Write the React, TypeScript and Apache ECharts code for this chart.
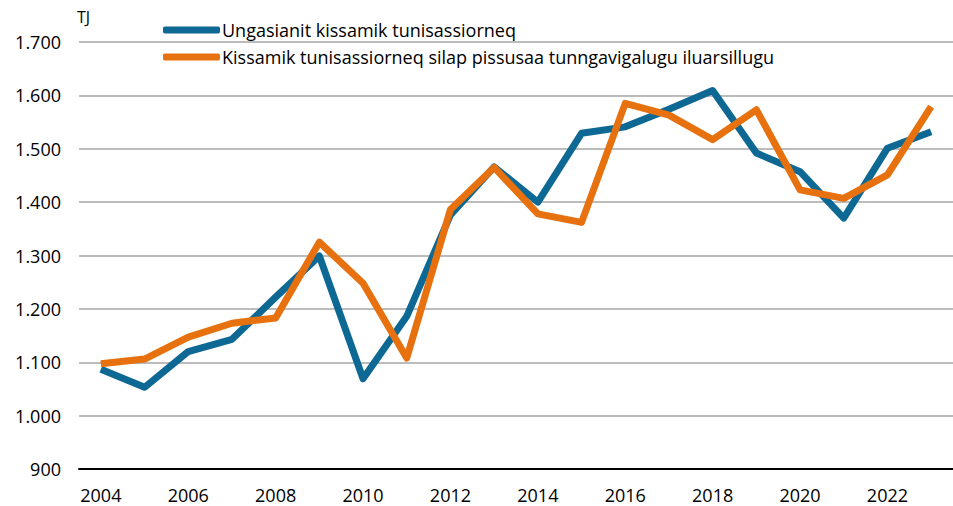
import React, { useEffect, useRef } from "react";
import * as echarts from "echarts";

const years = ["2004","2005","2006","2007","2008","2009","2010","2011","2012","2013","2014","2015","2016","2017","2018","2019","2020","2021","2022","2023"];
const seriesNames = ["Ungasianit kissamik tunisassiorneq", "Kissamik tunisassiorneq silap pissusaa tunngavigalugu iluarsillugu"];
const actual = [1087, 1053, 1120, 1143, 1222, 1299, 1069, 1186, 1376, 1466, 1400, 1529, 1541, 1574, 1609, 1492, 1457, 1370, 1501, 1532];
const adjusted = [1097, 1106, 1147, 1173, 1183, 1325, 1248, 1108, 1386, 1465, 1378, 1362, 1585, 1563, 1517, 1573, 1423, 1407, 1451, 1579];
const yMin = 900;
const yMax = 1700;
const yStep = 100;
const unitLabel = "TJ";

const FONT = "'Open Sans', 'Noto Sans', sans-serif";

export default function App() {
  const ref = useRef<HTMLDivElement>(null);
  useEffect(() => {
    const chart = echarts.init(ref.current!, null, { renderer: "svg" });
    chart.setOption({
      animation: false,
      textStyle: { fontFamily: FONT },
      graphic: [
        { type: "text", left: 77, top: 9, style: { text: unitLabel, fontSize: 16, fill: "#000", fontFamily: FONT } },
      ],
      legend: {
        orient: "vertical",
        left: 158,
        top: 16,
        itemWidth: 57,
        itemHeight: 7,
        itemGap: 9,
        icon: "roundRect",
        textStyle: { fontSize: 18, lineHeight: 18, color: "#000", fontFamily: FONT, padding: [0, 0, 0, -3] },
        data: seriesNames,
      },
      grid: { left: 79, right: -8, top: 42, bottom: 37, containLabel: false },
      xAxis: {
        type: "category",
        data: years,
        boundaryGap: true,
        axisLine: { lineStyle: { color: "#000", width: 2 } },
        axisTick: { show: false },
        axisLabel: { interval: 1, fontSize: 18, color: "#000", margin: 17, fontFamily: FONT },
        splitLine: { show: false },
      },
      yAxis: {
        type: "value",
        min: yMin,
        max: yMax,
        interval: yStep,
        axisLine: { show: false },
        axisTick: { show: false },
        axisLabel: {
          fontSize: 18,
          color: "#000",
          margin: 18,
          fontFamily: FONT,
          formatter: (v: number) => String(v).replace(/\B(?=(\d{3})+(?!\d))/g, "."),
        },
        splitLine: { lineStyle: { color: "#a6a6a6", width: 1.5 } },
      },
      series: [
        {
          name: seriesNames[0],
          type: "line",
          data: actual,
          symbol: "none",
          itemStyle: { color: "#0e6894" },
          lineStyle: { color: "#0e6894", width: 7, join: "round", cap: "butt" },
        },
        {
          name: seriesNames[1],
          type: "line",
          data: adjusted,
          symbol: "none",
          itemStyle: { color: "#e8710f" },
          lineStyle: { color: "#e8710f", width: 7, join: "round", cap: "butt" },
        },
      ],
    });
    return () => chart.dispose();
  }, []);
  return <div ref={ref} style={{ width: 953, height: 506, position: "absolute", left: 0, top: 0, background: "#fff" }} />;
}
